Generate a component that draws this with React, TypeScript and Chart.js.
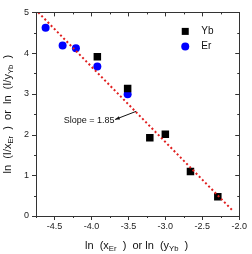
import React, { useEffect, useRef } from "react";
import { Chart, registerables } from "chart.js";

Chart.register(...registerables);

const erX = [-4.62, -4.39, -4.21, -3.92, -3.51];
const erY = [4.62, 4.19, 4.12, 3.67, 2.99];
const ybX = [-3.92, -3.51, -3.21, -3.0, -2.66, -2.29];
const ybY = [3.91, 3.13, 1.92, 2.01, 1.09, 0.47];
const fitX = [-4.72, -2.1];
const slope = 1.85;
const fitY0 = 5.0;
const xTicks = [-4.5, -4.0, -3.5, -3.0, -2.5, -2.0];
const yTicks = [0, 1, 2, 3, 4, 5];
const slopeLabel = "Slope = 1.85";

const FONT = "'Liberation Sans', Arial, sans-serif";

type Seg = { t: string; sub?: boolean };
const xTitle: Seg[] = [
  { t: "ln  (x" }, { t: "Er", sub: true }, { t: "  )  or ln  (y" }, { t: "Yb", sub: true }, { t: "  )" },
];
const yTitle: Seg[] = [
  { t: "ln  (I/x" }, { t: "Er", sub: true }, { t: "  )  or  ln  (I/y" }, { t: "Yb", sub: true }, { t: "  )" },
];

function drawSegs(ctx: CanvasRenderingContext2D, segs: Seg[], cx: number, cy: number, size: number) {
  const subSize = size * 0.7;
  let total = 0;
  const widths = segs.map((s) => {
    ctx.font = `${s.sub ? subSize : size}px ${FONT}`;
    const w = ctx.measureText(s.t).width;
    total += w;
    return w;
  });
  let x = cx - total / 2;
  ctx.textBaseline = "middle";
  ctx.textAlign = "left";
  segs.forEach((s, i) => {
    ctx.font = `${s.sub ? subSize : size}px ${FONT}`;
    ctx.fillText(s.t, x, s.sub ? cy + 3 : cy);
    x += widths[i];
  });
}

const decor = {
  id: "decor",
  afterDatasetsDraw(chart: any) {
    const { ctx, chartArea: a, scales } = chart;
    const xs = scales.x, ys = scales.y;
    ctx.save();
    // frame
    ctx.strokeStyle = "#333";
    ctx.lineWidth = 1;
    ctx.strokeRect(Math.round(a.left) + 0.5, Math.round(a.top) + 0.5, Math.round(a.right - a.left), Math.round(a.bottom - a.top));
    // ticks
    ctx.beginPath();
    for (let v = -4.75; v <= -2.0001 + 0.25; v += 0.25) {
      const major = Math.abs(v * 2 - Math.round(v * 2)) < 1e-6;
      const px = Math.round(xs.getPixelForValue(v)) + 0.5;
      const len = major ? 4 : 2;
      ctx.moveTo(px, a.bottom); ctx.lineTo(px, a.bottom + len);
      ctx.moveTo(px, a.top); ctx.lineTo(px, a.top + len);
    }
    for (let v = 0; v <= 5.0001; v += 0.5) {
      const major = Math.abs(v - Math.round(v)) < 1e-6;
      const py = Math.round(ys.getPixelForValue(v)) + 0.5;
      const len = major ? 4 : 2;
      ctx.moveTo(a.left - len, py); ctx.lineTo(a.left, py);
      ctx.moveTo(a.right, py); ctx.lineTo(a.right - len, py);
    }
    ctx.stroke();
    // titles
    ctx.fillStyle = "#111";
    drawSegs(ctx, xTitle, (a.left + a.right) / 2 - 1, 246, 11);
    ctx.save();
    ctx.translate(8, (a.top + a.bottom) / 2);
    ctx.rotate(-Math.PI / 2);
    drawSegs(ctx, yTitle, 0, 0, 11);
    ctx.restore();
    // legend
    const lx = a.right - 54, ly = a.top + 19;
    ctx.fillStyle = "#000";
    ctx.fillRect(lx - 3.5, ly - 3.5, 7, 7);
    ctx.fillStyle = "#0000ff";
    ctx.beginPath(); ctx.arc(lx, ly + 15, 4, 0, Math.PI * 2); ctx.fill();
    ctx.fillStyle = "#111";
    ctx.font = `10px ${FONT}`;
    ctx.textAlign = "left"; ctx.textBaseline = "middle";
    ctx.fillText("Yb", lx + 16, ly);
    ctx.fillText("Er", lx + 16, ly + 15);
    // slope annotation
    const tx = xs.getPixelForValue(-4.03), ty = ys.getPixelForValue(2.35);
    ctx.font = `9px ${FONT}`;
    ctx.textAlign = "center";
    ctx.fillText(slopeLabel, tx, ty);
    const x1 = xs.getPixelForValue(-3.395), y1 = ys.getPixelForValue(2.57);
    const x0 = xs.getPixelForValue(-3.68), y0 = ys.getPixelForValue(2.37);
    ctx.strokeStyle = "#111";
    ctx.lineWidth = 1;
    ctx.beginPath(); ctx.moveTo(x1, y1); ctx.lineTo(x0, y0); ctx.stroke();
    const ang = Math.atan2(y0 - y1, x0 - x1);
    ctx.beginPath();
    ctx.moveTo(x0, y0);
    ctx.lineTo(x0 - 5 * Math.cos(ang - 0.35), y0 - 5 * Math.sin(ang - 0.35));
    ctx.lineTo(x0 - 5 * Math.cos(ang + 0.35), y0 - 5 * Math.sin(ang + 0.35));
    ctx.closePath();
    ctx.fill();
    ctx.restore();
  },
};

export default function App() {
  const ref = useRef<HTMLCanvasElement>(null);
  useEffect(() => {
    document.body.style.margin = "0";
    const canvas = ref.current!;
    const fitData = fitX.map((x) => ({ x, y: fitY0 - slope * (x - fitX[0]) }));
    const chart = new Chart(canvas, {
      type: "scatter",
      data: {
        datasets: [
          {
            type: "line",
            data: fitData,
            borderColor: "#e02020",
            borderWidth: 2,
            borderDash: [2, 2.5],
            pointRadius: 0,
            fill: false,
          } as any,
          {
            data: ybX.map((x, i) => ({ x, y: ybY[i] })),
            pointStyle: "rect",
            pointRadius: 5.3,
            backgroundColor: "#000",
            borderColor: "#000",
            borderWidth: 0,
          },
          {
            data: erX.map((x, i) => ({ x, y: erY[i] })),
            pointStyle: "circle",
            pointRadius: 4,
            backgroundColor: "#0000ff",
            borderColor: "#0000ff",
            borderWidth: 0,
          },
        ],
      },
      options: {
        animation: false,
        responsive: false,
        devicePixelRatio: 1,
        layout: { padding: { top: 5, right: 6, left: 0, bottom: 0 } },
        plugins: { legend: { display: false }, tooltip: { enabled: false } },
        scales: {
          x: {
            type: "linear",
            min: -4.75,
            max: -2.0,
            afterBuildTicks: (s: any) => { s.ticks = xTicks.map((v) => ({ value: v })); },
            afterFit: (s: any) => { s.height = 38; },
            ticks: {
              callback: (v: any) => Number(v).toFixed(1),
              font: { family: FONT, size: 9 },
              color: "#222",
              padding: 5,
              maxRotation: 0,
            },
            grid: { display: false, drawTicks: false },
            border: { display: false },
          },
          y: {
            type: "linear",
            min: 0,
            max: 5,
            afterBuildTicks: (s: any) => { s.ticks = yTicks.map((v) => ({ value: v })); },
            afterFit: (s: any) => { s.width = 36; },
            ticks: {
              callback: (v: any) => String(v),
              font: { family: FONT, size: 9 },
              color: "#222",
              padding: 7,
            },
            grid: { display: false, drawTicks: false },
            border: { display: false },
          },
        },
      },
      plugins: [decor],
    });
    return () => chart.destroy();
  }, []);
  return <canvas ref={ref} width={252} height={254} style={{ display: "block", width: 252, height: 254 }} />;
}
